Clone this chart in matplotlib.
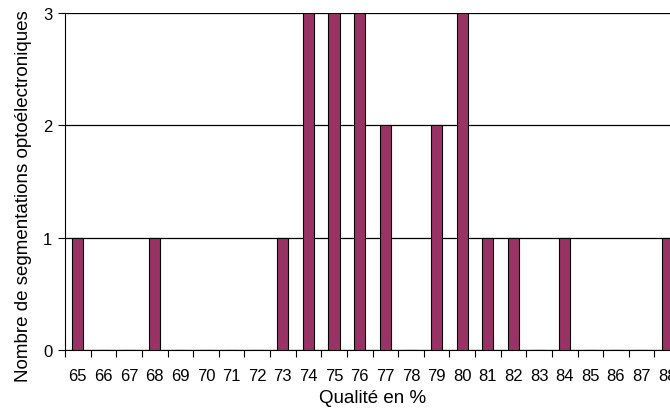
import matplotlib.pyplot as plt
import numpy as np

qualities = list(range(65, 89))
counts = [1, 0, 0, 1, 0, 0, 0, 0, 1, 3, 3, 3, 2, 0, 2, 3, 1, 1, 0, 1, 0, 0, 0, 1]
y_ticks = [0, 1, 2, 3]

plt.rcParams["font.family"] = ["Liberation Sans", "DejaVu Sans"]

fig = plt.figure(figsize=(6.7, 4.1), dpi=100)
ax = fig.add_axes([65 / 670, 59 / 410, 615 / 670, 337 / 410])

x = np.array(qualities)
ax.bar(x, counts, width=0.44, color="#993366", edgecolor="black", linewidth=0.8, zorder=3)

ax.set_xlim(64.5, 88.5)
ax.set_ylim(0, 3)
ax.set_yticks(y_ticks)
ax.yaxis.grid(True, color="black", linewidth=0.9, zorder=0)
ax.tick_params(axis="y", direction="out", length=5, width=0.8, labelsize=12, pad=4)

# category boundaries get the ticks, centers get the labels
ax.set_xticks(np.arange(64.5, 89.0, 1.0))
ax.set_xticklabels([])
ax.set_xticks(x, minor=True)
ax.set_xticklabels([str(q) for q in qualities], minor=True)
ax.tick_params(axis="x", which="major", direction="out", length=5, width=0.8)
ax.tick_params(axis="x", which="minor", length=0, labelsize=12, pad=13)

for side in ("top", "right"):
    ax.spines[side].set_visible(False)
ax.spines["left"].set_linewidth(0.8)
ax.spines["bottom"].set_linewidth(0.8)

ax.set_xlabel("Qualité en %", fontsize=13.5, labelpad=4)
ax.set_ylabel("Nombre de segmentations optoélectroniques", fontsize=13.5)
ax.yaxis.set_label_coords(-0.054, 0.46)

fig.savefig("out.png", dpi=100)
